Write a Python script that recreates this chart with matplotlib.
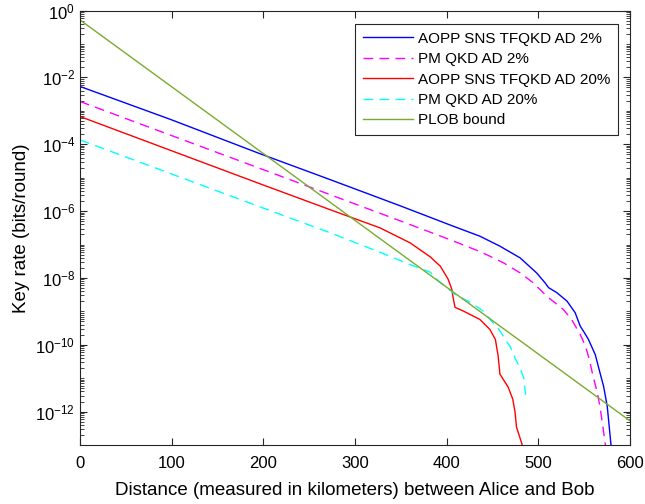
import numpy as np
import matplotlib
matplotlib.use('Agg')
import matplotlib.pyplot as plt
from matplotlib.ticker import LogLocator, FixedLocator, NullFormatter

plt.rcParams['font.family'] = ['Liberation Sans', 'DejaVu Sans']

# distances (km) and log10 key rates
blue_x = [0, 100, 196, 273, 350, 404, 436, 458, 480, 498, 507, 511, 520, 531, 540, 545.5, 549,
          554.5, 562, 567, 571, 575, 579, 580]
blue_y = [-2.27, -3.27, -4.28, -5.06, -5.85, -6.42, -6.75, -7.05, -7.40, -7.85, -8.14, -8.29,
          -8.44, -8.69, -9.04, -9.44, -9.59, -9.84, -10.30, -10.83, -11.24, -11.84, -12.97, -13.2]

mag_x = [0, 196, 273, 350, 404, 436, 447, 462, 480, 494, 503.6, 511, 527, 536, 545.5, 549, 553,
         556, 560, 564, 567, 570, 573, 574]
mag_y = [-2.72, -4.72, -5.51, -6.30, -6.86, -7.21, -7.35, -7.55, -7.85, -8.14, -8.40, -8.59,
         -8.94, -9.24, -9.69, -9.90, -10.20, -10.50, -11.00, -11.40, -11.84, -12.40, -13.0, -13.2]

red_x = [0, 196, 273, 327, 360, 382, 393, 401.5, 405.5, 407, 409, 418, 436, 447, 453, 456, 458,
         467, 472, 474.5, 476, 482, 483]
red_y = [-3.17, -5.18, -5.96, -6.50, -6.95, -7.37, -7.65, -8.04, -8.34, -8.60, -8.88, -8.99,
         -9.24, -9.54, -9.84, -10.33, -10.88, -11.27, -11.63, -12.02, -12.46, -12.97, -13.2]

cyan_x = [0, 196, 273, 338, 358, 382, 391, 409, 429, 440, 449, 457, 464, 469, 474.5, 480, 484, 486]
cyan_y = [-3.87, -5.87, -6.65, -7.35, -7.58, -7.83, -8.09, -8.49, -8.78, -9.00, -9.30, -9.55,
          -9.84, -10.05, -10.40, -10.70, -11.00, -11.50]

plob_x = [0, 600]
plob_y = [-0.28, -12.28]

fig = plt.figure(figsize=(6.45, 5.04), dpi=100)
ax = fig.add_axes([0.124, 0.117, 0.853, 0.862])

ax.plot(blue_x, 10 ** np.array(blue_y), color=(0, 0, 1), lw=1.0, label='AOPP SNS TFQKD AD 2%')
ax.plot(mag_x, 10 ** np.array(mag_y), color=(1, 0, 1), lw=1.0, dashes=(7, 4.5), label='PM QKD AD 2%')
ax.plot(red_x, 10 ** np.array(red_y), color=(1, 0, 0), lw=1.0, label='AOPP SNS TFQKD AD 20%')
ax.plot(cyan_x, 10 ** np.array(cyan_y), color=(0, 1, 1), lw=1.0, dashes=(7, 4.5), label='PM QKD AD 20%')
ax.plot(plob_x, 10 ** np.array(plob_y), color=(0.466, 0.674, 0.188), lw=1.0, label='PLOB bound')

ax.set_yscale('log')
ax.set_xlim(0, 600)
ax.set_ylim(1e-13, 1e0)
ax.set_xticks(range(0, 601, 100))
ax.yaxis.set_major_locator(FixedLocator([10.0 ** k for k in range(0, -13, -2)]))
ax.yaxis.set_minor_locator(LogLocator(base=10, subs=np.arange(1, 10), numticks=100))
ax.yaxis.set_minor_formatter(NullFormatter())

axc = (0.15, 0.15, 0.15)
for s in ax.spines.values():
    s.set_color(axc)
    s.set_linewidth(0.8)
ax.tick_params(which='both', direction='in', top=True, right=True, colors=axc, labelcolor='black',
               labelsize=12)
ax.tick_params(which='major', length=5, width=0.8)
ax.tick_params(which='minor', length=3, width=0.6)
ax.tick_params(axis='x', pad=8)

ax.set_xlabel('Distance (measured in kilometers) between Alice and Bob', fontsize=13.5, labelpad=8)
ax.set_ylabel('Key rate (bits/round)', fontsize=13.5)

leg = ax.legend(loc='upper right', fontsize=11, handlelength=3.3, handletextpad=0.3,
                borderpad=0.5, labelspacing=0.42, fancybox=False, framealpha=1,
                borderaxespad=0, bbox_to_anchor=(0.978, 0.969))
leg.get_frame().set_edgecolor(axc)
leg.get_frame().set_linewidth(0.8)

fig.savefig('out.png', dpi=100)
